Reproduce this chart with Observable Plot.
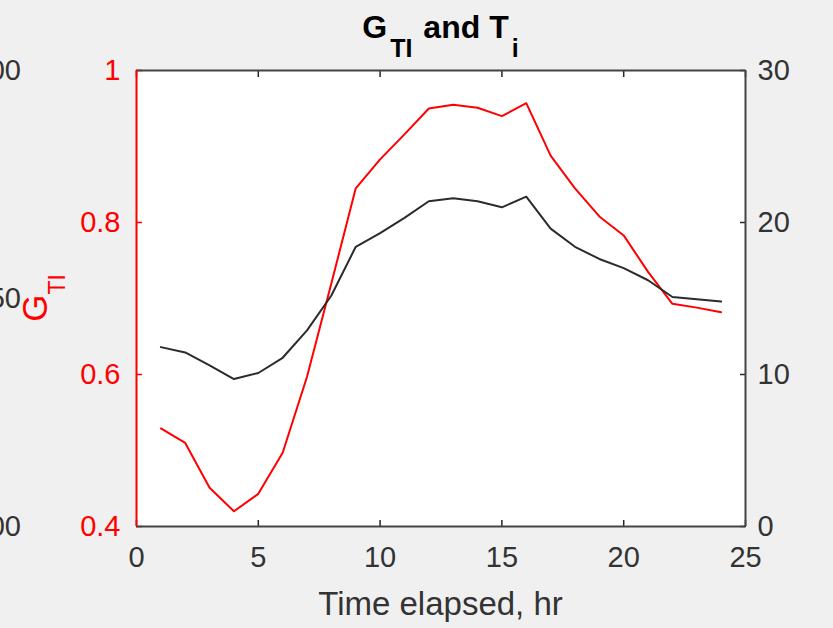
<!DOCTYPE html>
<html>
<head>
<meta charset="utf-8">
<script src="https://cdn.jsdelivr.net/npm/d3@7"></script>
<script src="https://cdn.jsdelivr.net/npm/@observablehq/plot@0.6"></script>
<style>
  html, body { margin: 0; padding: 0; background: #f0f0f0; }
  #chart { width: 833px; height: 628px; overflow: hidden; }
</style>
</head>
<body>
<div id="chart"></div>
<script>
// ---- data ----
const hours = [1,2,3,4,5,6,7,8,9,10,11,12,13,14,15,16,17,18,19,20,21,22,23,24];
const gTI = [0.529,0.510,0.451,0.420,0.443,0.497,0.597,0.720,0.845,0.883,0.916,0.950,0.955,0.951,0.940,0.957,0.888,0.845,0.808,0.783,0.735,0.693,0.688,0.682];
const tI  = [11.8,11.45,10.6,9.7,10.1,11.1,12.9,15.2,18.4,19.3,20.3,21.4,21.6,21.4,21.0,21.7,19.6,18.4,17.6,17.0,16.2,15.1,14.95,14.8];
const xTicks = [0,5,10,15,20,25];
const leftTicks = [0.4,0.6,0.8,1.0];
const rightTicks = [0,10,20,30];
const leftDomain = [0.4, 1.0];
const rightDomain = [0, 30];
const titleMain = "G", titleSub1 = "TI", titleMid = " and T", titleSub2 = "i";
const xLabel = "Time elapsed, hr";
const yLabelMain = "G", yLabelSub = "TI";
const cutLabels = [["00", 1.0], ["50", 0.7], ["00", 0.4]];

// map right-axis values onto the left scale
const toLeft = t => leftDomain[0] + (t - rightDomain[0]) / (rightDomain[1] - rightDomain[0]) * (leftDomain[1] - leftDomain[0]);

const gray = "#262626";
const red = "#ff0000";
const font = "'Liberation Sans', Arial, Helvetica, sans-serif";

const plot = Plot.plot({
  width: 833,
  height: 628,
  marginLeft: 136,
  marginRight: 88,
  marginTop: 70,
  marginBottom: 102,
  style: { background: "#f0f0f0", fontFamily: font, fontSize: "29px", overflow: "visible" },
  x: { domain: [0, 25] },
  y: { domain: leftDomain },
  marks: [
    Plot.frame({ fill: "white", stroke: "none" }),
    // inward ticks
    Plot.axisX({ anchor: "bottom", ticks: xTicks, tickSize: -6, tickFormat: () => "", label: null, stroke: gray, strokeWidth: 1.5 }),
    Plot.axisX({ anchor: "top", ticks: xTicks, tickSize: -6, tickFormat: () => "", label: null, stroke: gray, strokeWidth: 1.5 }),
    Plot.axisY({ anchor: "left", ticks: leftTicks, tickSize: -6, tickFormat: () => "", label: null, stroke: red, strokeWidth: 1.5 }),
    Plot.axisY({ anchor: "right", ticks: rightTicks.map(toLeft), tickSize: -6, tickFormat: () => "", label: null, stroke: gray, strokeWidth: 1.5 }),
    // tick labels
    Plot.axisX({ anchor: "bottom", ticks: xTicks, tickSize: 0, tickPadding: 20, label: null, fill: "#333", fontSize: 29 }),
    Plot.axisY({ anchor: "left", ticks: leftTicks, tickSize: 0, tickPadding: 16, label: null, fill: red, fontSize: 29,
                 tickFormat: d => String(+d.toFixed(1)) }),
    Plot.axisY({ anchor: "right", ticks: rightTicks.map(toLeft), tickSize: 0, tickPadding: 12, label: null, fill: "#333", fontSize: 29,
                 tickFormat: d => String(Math.round(rightDomain[0] + (d - leftDomain[0]) / (leftDomain[1] - leftDomain[0]) * (rightDomain[1] - rightDomain[0]))) }),
    // data lines
    Plot.line(hours, { x: d => d, y: (d, i) => gTI[i], stroke: red, strokeWidth: 2 }),
    Plot.line(hours, { x: d => d, y: (d, i) => toLeft(tI[i]), stroke: "#2b2b2b", strokeWidth: 2 }),
    // box
    Plot.ruleY([leftDomain[0], leftDomain[1]], { stroke: "#444", strokeWidth: 2 }),
    Plot.ruleX([25], { stroke: "#444", strokeWidth: 2 }),
    Plot.ruleX([0], { stroke: red, strokeWidth: 2 })
  ]
});

document.getElementById("chart").appendChild(plot);

const svg = d3.select(plot);
const xs = plot.scale("x"), ys = plot.scale("y");
const cx = (xs.apply(0) + xs.apply(25)) / 2;

// title
const title = svg.append("text")
  .attr("x", cx).attr("y", 38)
  .attr("text-anchor", "middle")
  .attr("font-family", font).attr("font-weight", "bold").attr("font-size", 32)
  .attr("fill", "#000");
title.append("tspan").text(titleMain);
title.append("tspan").attr("font-size", 25).attr("dy", 19).attr("dx", 3).text(titleSub1);
title.append("tspan").attr("dy", -19).attr("dx", 2).text(titleMid);
title.append("tspan").attr("font-size", 25).attr("dy", 19).attr("dx", 3).text(titleSub2);

// x label
svg.append("text")
  .attr("x", cx).attr("y", 615)
  .attr("text-anchor", "middle")
  .attr("font-family", font).attr("font-size", 33)
  .attr("fill", "#333")
  .text(xLabel);

// y label (rotated)
const cy = (ys.apply(leftDomain[0]) + ys.apply(leftDomain[1])) / 2;
const yl = svg.append("text")
  .attr("transform", `translate(47,${cy}) rotate(-90)`)
  .attr("text-anchor", "middle")
  .attr("font-family", font).attr("font-size", 35)
  .attr("fill", red);
yl.append("tspan").text(yLabelMain);
yl.append("tspan").attr("font-size", 23).attr("dy", 18).text(yLabelSub);

// cut-off labels of a neighbouring axis at the left edge (partly outside the figure, as in the reference)
for (const [t, v] of cutLabels) {
  svg.append("text")
    .attr("x", 21).attr("y", ys.apply(v))
    .attr("dy", "0.36em")
    .attr("text-anchor", "end")
    .attr("font-family", font).attr("font-size", 29)
    .attr("fill", "#333")
    .text(t);
}
</script>
</body>
</html>
